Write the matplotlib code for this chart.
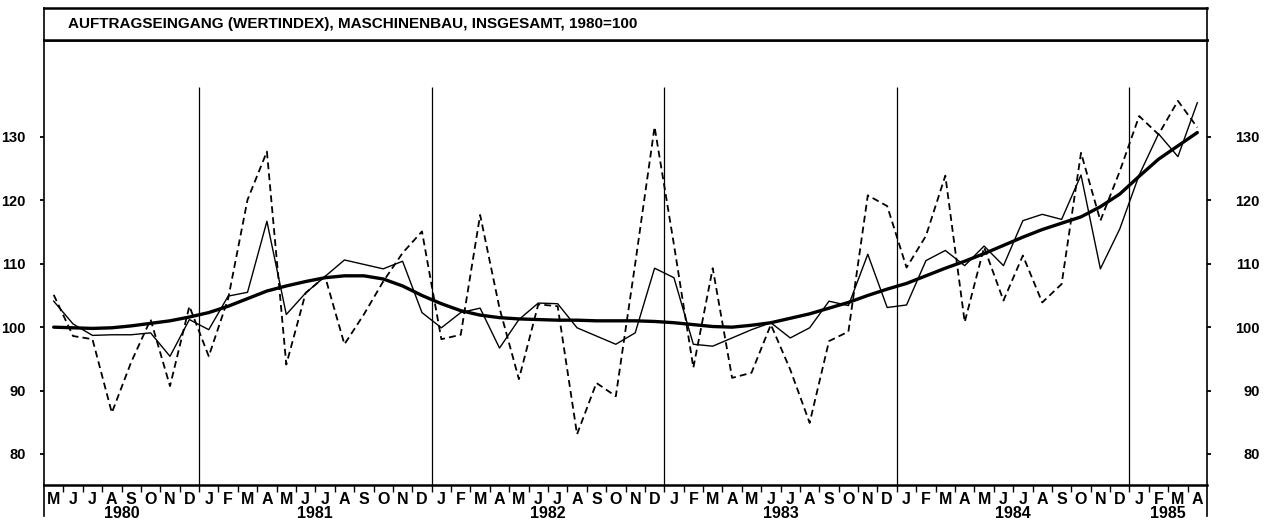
import matplotlib
matplotlib.use('Agg')
import matplotlib.pyplot as plt
import numpy as np
from matplotlib.transforms import blended_transform_factory

# ---------------- data (May 1980 .. April 1985) ----------------
months = ['M', 'J', 'J', 'A', 'S', 'O', 'N', 'D'] + \
         ['J', 'F', 'M', 'A', 'M', 'J', 'J', 'A', 'S', 'O', 'N', 'D'] * 4 + \
         ['J', 'F', 'M', 'A']
years = ['1980', '1981', '1982', '1983', '1984', '1985']
months_per_year = [8, 12, 12, 12, 12, 4]

# original values (dashed)
raw = [105.1, 98.6, 98.1, 86.5, 94.5, 101.2, 90.7, 103.3,
       95.4, 104.5, 120.1, 127.7, 94.1, 105.4, 108.0, 97.3, 102.0, 107.2, 111.7, 115.1,
       98.1, 98.8, 117.7, 103.0, 91.8, 103.6, 103.3, 83.1, 91.2, 89.1, 110.0, 131.6,
       113.0, 93.6, 109.3, 92.0, 92.8, 100.4, 93.3, 84.9, 97.8, 99.3, 120.8, 119.1,
       109.4, 114.4, 123.9, 100.8, 112.6, 104.2, 111.3, 103.9, 106.8, 127.5, 116.8, 124.6,
       133.3, 130.4, 135.7, 131.5]

# seasonally adjusted (thin solid)
adjusted = [104.1, 100.5, 98.7, 98.8, 98.8, 99.1, 95.4, 101.2,
            99.6, 104.9, 105.5, 116.7, 102.0, 105.4, 108.0, 110.6, 109.9, 109.2, 110.4, 102.3,
            99.9, 102.3, 103.0, 96.7, 101.2, 103.8, 103.7, 99.9, 98.6, 97.3, 99.1, 109.3,
            107.8, 97.3, 97.0, 98.3, 99.6, 100.7, 98.3, 99.9, 104.1, 103.4, 111.5, 103.1,
            103.5, 110.5, 112.1, 109.7, 112.8, 109.7, 116.8, 117.8, 117.0, 124.0, 109.2, 115.5,
            124.0, 130.5, 126.9, 135.4]

# trend (thick solid)
trend = [100.0, 99.9, 99.8, 99.9, 100.2, 100.6, 101.0, 101.6,
         102.3, 103.3, 104.5, 105.7, 106.5, 107.2, 107.8, 108.1, 108.1, 107.6, 106.5, 105.0,
         103.7, 102.6, 101.9, 101.5, 101.3, 101.2, 101.1, 101.1, 101.0, 101.0, 101.0, 100.9,
         100.7, 100.4, 100.1, 100.0, 100.3, 100.7, 101.4, 102.1, 103.0, 103.9, 105.0, 106.0,
         106.9, 108.1, 109.3, 110.4, 111.6, 112.9, 114.2, 115.4, 116.4, 117.4, 119.0, 121.0,
         123.8, 126.5, 128.6, 130.7]

yticks = [80, 90, 100, 110, 120, 130]
title = 'AUFTRAGSEINGANG (WERTINDEX), MASCHINENBAU, INSGESAMT, 1980=100'

# ---------------- style ----------------
plt.rcParams['font.family'] = ['Liberation Sans', 'DejaVu Sans']
plt.rcParams['font.weight'] = 'bold'

W, H = 1276, 520
fig = plt.figure(figsize=(W / 100, H / 100), dpi=100)
ax = fig.add_axes([44 / W, 35 / H, 1163 / W, 445 / H])

x = np.arange(len(months))
ax.plot(x, raw, color='black', lw=1.3, ls=(0, (3.8, 2.3)))
ax.plot(x, adjusted, color='black', lw=1.0)
ax.plot(x, trend, color='black', lw=2.4, solid_capstyle='round')

ax.set_xlim(-0.5, len(months) - 0.5)
ax.set_ylim(75.1, 145.3)

# year separators
bounds = np.cumsum(months_per_year)[:-1] - 0.5
ax.vlines(bounds, 75.1, 137.9, color='black', lw=0.9)

# spines
for side in ['left', 'right']:
    ax.spines[side].set_linewidth(1.2)
for side in ['top', 'bottom']:
    ax.spines[side].set_linewidth(1.8)

# y axis left
ax.set_yticks(yticks)
ax.set_yticklabels([str(v) for v in yticks])
ax.tick_params(axis='y', direction='out', length=3, width=1.3, pad=10, labelsize=10.5)

# y axis right (labels right-aligned)
ax2 = ax.twinx()
ax2.set_ylim(ax.get_ylim())
ax2.set_yticks(yticks)
ax2.set_yticklabels([str(v) for v in yticks], ha='right')
ax2.tick_params(axis='y', direction='out', length=3, width=1.3, pad=35, labelsize=10.5)
for s in ax2.spines.values():
    s.set_visible(False)

# x axis: ticks at month boundaries, letters at month centres
ax.set_xticks(np.arange(-0.5, len(months), 1.0)[1:-1])
ax.set_xticklabels([])
ax.tick_params(axis='x', which='major', direction='out', length=5, width=1.0)
ax.set_xticks(x, minor=True)
ax.set_xticklabels(months, minor=True)
ax.tick_params(axis='x', which='minor', length=0, pad=5, labelsize=11.5)

# year labels
trans = blended_transform_factory(ax.transData, ax.transAxes)
start = 0
for yr, n in zip(years, months_per_year):
    centre = start + (n - 1) / 2
    ax.text(centre, -0.047, yr, transform=trans, ha='center', va='top', fontsize=11.5)
    start += n

# axis lines extending below the month row
for xx in [0, 1]:
    ax.plot([xx, xx], [0, -0.07], transform=ax.transAxes, clip_on=False,
            color='black', lw=1.2)

# title box
tax = fig.add_axes([44 / W, 480 / H, 1163 / W, 32 / H])
tax.set_xticks([])
tax.set_yticks([])
for side in ['left', 'right']:
    tax.spines[side].set_linewidth(1.2)
for side in ['top', 'bottom']:
    tax.spines[side].set_linewidth(1.8)
tax.text(24 / 1163, 0.5, title, transform=tax.transAxes, ha='left', va='center',
         fontsize=11)

fig.savefig('out.png', dpi=100)
